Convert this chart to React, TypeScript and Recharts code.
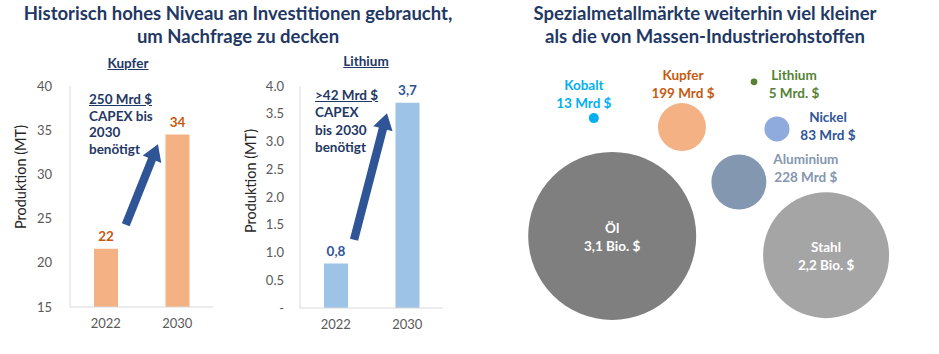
import React from "react";
import {
  Bar,
  BarChart,
  Cell,
  LabelList,
  ReferenceLine,
  Scatter,
  ScatterChart,
  XAxis,
  YAxis,
  ZAxis,
} from "recharts";

// --- data -------------------------------------------------------------
const YEARS = ["2022", "2030"];
const KUPFER_PROD = [21.6, 34.5];
const KUPFER_LABELS = ["22", "34"];
const KUPFER_TICKS = [15, 20, 25, 30, 35, 40];

const LITHIUM_PROD = [0.8, 3.7];
const LITHIUM_LABELS = ["0,8", "3,7"];
const LITHIUM_TICKS = [0, 0.5, 1, 1.5, 2, 2.5, 3, 3.5, 4];

// arrow start/end: x as share of the plot width, y in axis units
const KUPFER_ARROW = [
  { x: 0.39, y: 24.3 },
  { x: 0.615, y: 33.4 },
];
const LITHIUM_ARROW = [
  { x: 0.378, y: 1.23 },
  { x: 0.608, y: 3.51 },
];

const MARKETS = ["Kobalt", "Kupfer", "Lithium", "Nickel", "Aluminium", "Öl", "Stahl"];
const MARKET_VALUES = ["13 Mrd $", "199 Mrd $", "5 Mrd. $", "83 Mrd $", "228 Mrd $", "3,1 Bio. $", "2,2 Bio. $"];
const BUBBLE_X = [2.48, 4.4, 5.97, 6.47, 5.64, 2.88, 7.54];
const BUBBLE_Y = [7.48, 7.19, 8.65, 7.13, 5.42, 3.68, 3.06];
// bubble area as drawn, relative to Öl = 3100
const BUBBLE_SIZE = [11, 253, 5, 69, 332, 3100, 1744];

// --- styles -----------------------------------------------------------
const FONT = "Lato, 'Open Sans', sans-serif";
const NAVY = "#1f3864";
const ARROW_BLUE = "#2f5597";
const AXIS_GREY = "#d9d9d9";
const TICK_GREY = "#595959";

const BUBBLE_STYLE: Record<string, { fill: string; text: string; dx: number; dy: number }> = {
  Kobalt: { fill: "#00b0f0", text: "#00b0f0", dx: -10, dy: -33 },
  Kupfer: { fill: "#f4b183", text: "#c55a11", dx: 1, dy: -52 },
  Lithium: { fill: "#548235", text: "#548235", dx: 40, dy: -7 },
  Nickel: { fill: "#8faadc", text: "#2f5597", dx: 51, dy: -12 },
  Aluminium: { fill: "#8497b0", text: "#8497b0", dx: 67, dy: -23 },
  Öl: { fill: "#7f7f7f", text: "#ffffff", dx: 0, dy: -8 },
  Stahl: { fill: "#a5a5a5", text: "#ffffff", dx: 0, dy: -8 },
};

const kupferData = YEARS.map((year, i) => ({ year, value: KUPFER_PROD[i], label: KUPFER_LABELS[i] }));
const lithiumData = YEARS.map((year, i) => ({ year, value: LITHIUM_PROD[i], label: LITHIUM_LABELS[i] }));
const bubbleData = MARKETS.map((name, i) => ({
  name,
  valueLabel: MARKET_VALUES[i],
  x: BUBBLE_X[i],
  y: BUBBLE_Y[i],
  size: BUBBLE_SIZE[i],
}));

function ArrowShape(props: any) {
  const { x1, y1, x2, y2 } = props;
  if ([x1, y1, x2, y2].some((v) => typeof v !== "number" || Number.isNaN(v))) return null;
  const dx = x2 - x1;
  const dy = y2 - y1;
  const len = Math.hypot(dx, dy) || 1;
  const ux = dx / len;
  const uy = dy / len;
  const nx = -uy;
  const ny = ux;
  const shaft = 4.2;
  const headW = 10;
  const headL = 16;
  const bx = x2 - ux * headL;
  const by = y2 - uy * headL;
  const pts = [
    [x1 + nx * shaft, y1 + ny * shaft],
    [bx + nx * shaft, by + ny * shaft],
    [bx + nx * headW, by + ny * headW],
    [x2, y2],
    [bx - nx * headW, by - ny * headW],
    [bx - nx * shaft, by - ny * shaft],
    [x1 - nx * shaft, y1 - ny * shaft],
  ]
    .map((p) => p.join(","))
    .join(" ");
  return <polygon points={pts} fill={ARROW_BLUE} />;
}

function BubbleShape(props: any) {
  const { cx, cy, payload } = props;
  const size = props.size ?? 0;
  const r = Math.sqrt(Math.max(size, 0) / Math.PI);
  const st = BUBBLE_STYLE[payload.name];
  return (
    <g>
      <circle cx={cx} cy={cy} r={r} fill={st.fill} />
      <text
        x={cx + st.dx}
        y={cy + st.dy}
        textAnchor="middle"
        dominantBaseline="central"
        fill={st.text}
        fontSize={13.5}
        fontWeight={700}
        fontFamily={FONT}
      >
        {payload.name}
      </text>
      <text
        x={cx + st.dx}
        y={cy + st.dy + 18}
        textAnchor="middle"
        dominantBaseline="central"
        fill={st.text}
        fontSize={13.5}
        fontWeight={700}
        fontFamily={FONT}
      >
        {payload.valueLabel}
      </text>
    </g>
  );
}

function YLabel({ x, y }: { x: number; y: number }) {
  return (
    <div
      style={{
        position: "absolute",
        left: x - 70,
        top: y - 10,
        width: 140,
        height: 20,
        lineHeight: "20px",
        textAlign: "center",
        transform: "rotate(-90deg)",
        fontSize: 14.5,
        color: "#262626",
      }}
    >
      Produktion (MT)
    </div>
  );
}

function Note({ left, top, lineHeight, lines }: { left: number; top: number; lineHeight: number; lines: string[] }) {
  return (
    <div
      style={{
        position: "absolute",
        left,
        top,
        lineHeight: `${lineHeight}px`,
        fontSize: 13.5,
        fontWeight: 700,
        color: NAVY,
      }}
    >
      {lines.map((l, i) => (
        <div key={i} style={{ textDecoration: i === 0 ? "underline" : "none", whiteSpace: "nowrap" }}>
          {l}
        </div>
      ))}
    </div>
  );
}

const tickStyle = { fontSize: 13, fill: TICK_GREY, fontFamily: FONT };

export default function App() {
  return (
    <div style={{ position: "relative", width: 939, height: 354, background: "#fff", fontFamily: FONT, overflow: "hidden" }}>
      <style>{`body{margin:0}`}</style>

      {/* titles */}
      <div
        style={{
          position: "absolute",
          left: 0,
          top: 2,
          width: 476,
          textAlign: "center",
          fontSize: 18.5,
          fontWeight: 700,
          lineHeight: "23px",
          color: NAVY,
        }}
      >
        Historisch hohes Niveau an Investitionen gebraucht,
        <br />
        um Nachfrage zu decken
      </div>
      <div
        style={{
          position: "absolute",
          left: 470,
          top: 2,
          width: 470,
          textAlign: "center",
          fontSize: 18.5,
          fontWeight: 700,
          lineHeight: "23px",
          color: NAVY,
        }}
      >
        Spezialmetallmärkte weiterhin viel kleiner
        <br />
        als die von Massen-Industrierohstoffen
      </div>

      {/* sub titles */}
      <div style={{ position: "absolute", left: 78, top: 55, width: 100, textAlign: "center", fontSize: 13.5, fontWeight: 700, color: NAVY, textDecoration: "underline" }}>
        Kupfer
      </div>
      <div style={{ position: "absolute", left: 316, top: 53, width: 100, textAlign: "center", fontSize: 13.5, fontWeight: 700, color: NAVY, textDecoration: "underline" }}>
        Lithium
      </div>

      {/* Kupfer */}
      <div style={{ position: "absolute", left: 0, top: 0 }}>
        <BarChart width={230} height={354} data={kupferData} margin={{ top: 86, right: 17, bottom: 17, left: 0 }}>
          <XAxis
            dataKey="year"
            height={30}
            tickLine={false}
            tickSize={0}
            tickMargin={12}
            axisLine={{ stroke: AXIS_GREY }}
            tick={tickStyle}
          />
          <XAxis xAxisId="pos" type="number" domain={[0, 1]} hide />
          <YAxis
            width={70}
            domain={[15, 40]}
            ticks={KUPFER_TICKS}
            interval={0}
            tickLine={false}
            tickSize={0}
            tickMargin={18}
            axisLine={{ stroke: AXIS_GREY }}
            tick={tickStyle}
          />
          <Bar dataKey="value" fill="#f4b183" barSize={24} isAnimationActive={false}>
            <LabelList dataKey="label" position="top" offset={8} fill="#c55a11" fontSize={13.5} fontWeight={700} fontFamily={FONT} />
          </Bar>
          <ReferenceLine xAxisId="pos" segment={KUPFER_ARROW} ifOverflow="visible" shape={ArrowShape} />
        </BarChart>
      </div>

      {/* Lithium */}
      <div style={{ position: "absolute", left: 230, top: 0 }}>
        <BarChart width={230} height={354} data={lithiumData} margin={{ top: 86, right: 17, bottom: 16, left: 0 }}>
          <XAxis
            dataKey="year"
            height={30}
            tickLine={false}
            tickSize={0}
            tickMargin={12}
            axisLine={{ stroke: AXIS_GREY }}
            tick={tickStyle}
          />
          <XAxis xAxisId="pos" type="number" domain={[0, 1]} hide />
          <YAxis
            width={70}
            domain={[0, 4]}
            ticks={LITHIUM_TICKS}
            interval={0}
            tickLine={false}
            tickSize={0}
            tickMargin={16}
            axisLine={{ stroke: AXIS_GREY }}
            tick={tickStyle}
            tickFormatter={(v: number) => (v === 0 ? "-" : v.toFixed(1))}
          />
          <Bar dataKey="value" fill="#9dc3e6" barSize={24} isAnimationActive={false}>
            <LabelList dataKey="label" position="top" offset={8} fill={ARROW_BLUE} fontSize={13.5} fontWeight={700} fontFamily={FONT} />
          </Bar>
          <ReferenceLine xAxisId="pos" segment={LITHIUM_ARROW} ifOverflow="visible" shape={ArrowShape} />
        </BarChart>
      </div>

      <YLabel x={21} y={177} />
      <YLabel x={251} y={181} />

      <Note left={89} top={91} lineHeight={16.5} lines={["250 Mrd $", "CAPEX bis", "2030", "benötigt"]} />
      <Note left={315} top={87} lineHeight={17.3} lines={[">42 Mrd $", "CAPEX", "bis 2030", "benötigt"]} />

      {/* bubbles */}
      <div style={{ position: "absolute", left: 480, top: 40 }}>
        <ScatterChart width={459} height={310} margin={{ top: 0, right: 0, bottom: 0, left: 0 }}>
          <XAxis type="number" dataKey="x" domain={[0, 10]} hide />
          <YAxis type="number" dataKey="y" domain={[0, 10]} hide />
          <ZAxis type="number" dataKey="size" domain={[0, 3100]} range={[0, Math.PI * 84 * 84]} />
          <Scatter data={bubbleData} shape={BubbleShape} isAnimationActive={false}>
            {bubbleData.map((d) => (
              <Cell key={d.name} fill={BUBBLE_STYLE[d.name].fill} />
            ))}
          </Scatter>
        </ScatterChart>
      </div>
    </div>
  );
}
